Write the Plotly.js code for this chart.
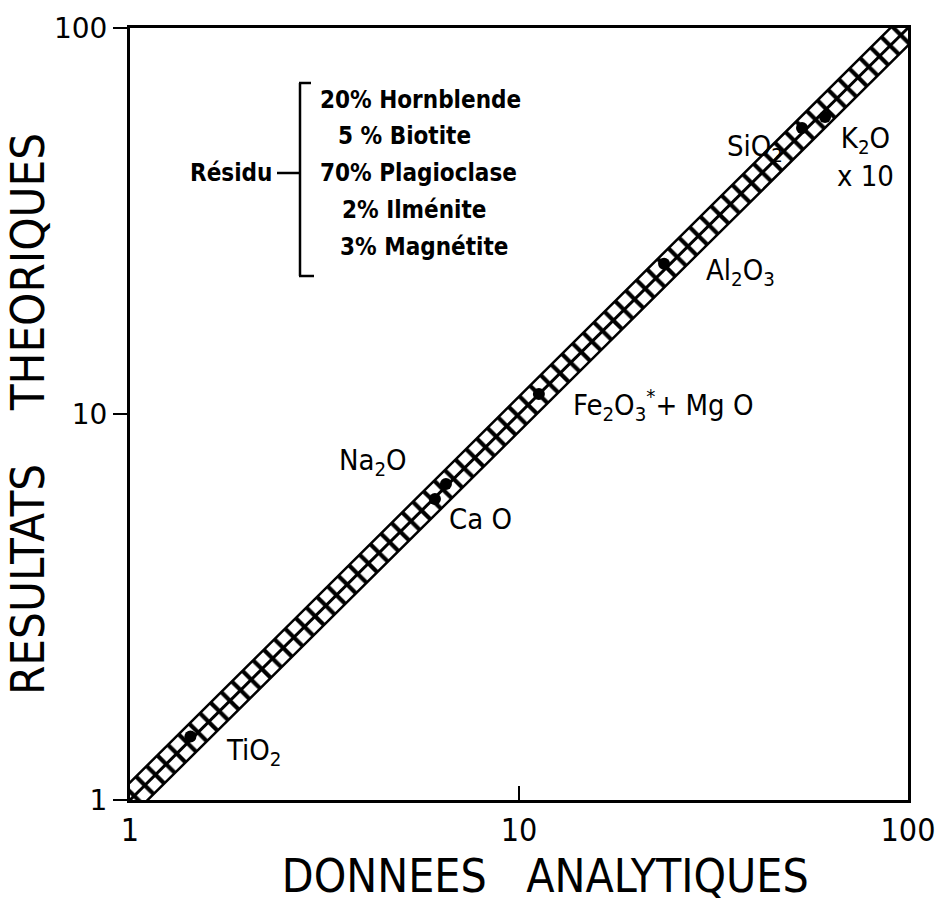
<!DOCTYPE html>
<html><head><meta charset="utf-8">
<script src="https://cdn.plot.ly/plotly-3.0.1.min.js"></script>
<style>body{margin:0;background:#fff}</style>
</head><body><div id="chart" style="width:948px;height:906px"></div>
<script>
// ---- data ----
const oxides = ['TiO2','CaO','Na2O','Fe2O3*+MgO','Al2O3','SiO2','K2O x10'];
const analytical  = [1.43, 6.08, 6.49, 11.25, 23.6, 53.4, 61.2];
const theoretical = [1.46, 6.02, 6.59, 11.27, 24.5, 55.1, 58.8];
const oxideLabels = ['TiO<sub>2</sub>','Ca O','Na<sub>2</sub>O','Fe<sub>2</sub>O<sub>3</sub><sup>*</sup>+ Mg O','Al<sub>2</sub>O<sub>3</sub>','SiO<sub>2</sub>','K<sub>2</sub>O<br>x 10'];
const residuLines = ['20% Hornblende','5 % Biotite','70% Plagioclase','2% Ilménite','3% Magnétite'];
const residuTitle = 'Résidu';
const tickVals = [1, 10, 100];
const tickText = ['1', '10', '100'];
const bandFactor = 1.11;          // envelope around the 1:1 line
const lineX = [0.8, 125];         // extent of the 1:1 line (clipped by axes)

// ---- layout helpers (pixel -> paper) ----
const L = 130, R = 908, T = 28, B = 800;
const px = x => (x - L) / (R - L);
const py = y => (B - y) / (B - T);

const FONT = '"DejaVu Sans Condensed","Liberation Sans Narrow","DejaVu Sans",sans-serif';
const NB = n => '\u00a0'.repeat(n);

const bandX = lineX.concat(lineX.slice().reverse());
const bandY = lineX.map(v => v * bandFactor).concat(lineX.slice().reverse().map(v => v / bandFactor));

const traces = [
  {x: bandX, y: bandY, mode: 'lines', fill: 'toself', fillcolor: 'white',
   fillpattern: {shape: '\\', size: 15, solidity: 0.28, fgcolor: 'black', bgcolor: 'white'},
   line: {color: 'black', width: 2.5}, hoverinfo: 'skip', showlegend: false},
  {x: lineX, y: lineX, mode: 'lines', line: {color: 'black', width: 3}, showlegend: false, hoverinfo: 'skip'},
  {x: analytical, y: theoretical, mode: 'markers', text: oxides,
   marker: {color: 'black', size: 12}, showlegend: false}
];

// label offsets (pixels) relative to each point
const offs = [[63,-15],[46,-20],[-73,22],[124,-11],[76,-8],[-47,-20],[40,-40]];
const annotations = oxideLabels.map((t, i) => ({
  x: Math.log10(analytical[i]), y: Math.log10(theoretical[i]), xref: 'x', yref: 'y',
  text: t, showarrow: false, xshift: offs[i][0], yshift: offs[i][1],
  font: {family: FONT, size: 29, color: 'black'}
}));
const resLeft = [318, 336, 318, 340, 338];
const resY = [100, 136, 173, 210, 247];
residuLines.forEach((t, i) => annotations.push({
  xref: 'paper', yref: 'paper', x: px(resLeft[i]), y: py(resY[i]), xanchor: 'left', yanchor: 'middle',
  text: t, showarrow: false, font: {family: FONT, size: 24, color: 'black', weight: 'bold'}
}));
annotations.push({xref: 'paper', yref: 'paper', x: px(274), y: py(173), xanchor: 'right', yanchor: 'middle',
  text: residuTitle, showarrow: false, font: {family: FONT, size: 24, color: 'black', weight: 'bold'}});

const ln = (x0, y0, x1, y1) => ({type: 'line', xref: 'paper', yref: 'paper',
  x0: px(x0), y0: py(y0), x1: px(x1), y1: py(y1), line: {color: 'black', width: 2.5}});
const shapes = [ln(300, 83, 300, 276), ln(299, 83, 311, 83), ln(299, 276, 314, 276), ln(277, 173, 299, 173)];

const layout = {
  width: 948, height: 906, paper_bgcolor: 'white', plot_bgcolor: 'white',
  margin: {l: L, r: 948 - R, t: T, b: 906 - B},
  xaxis: {type: 'log', range: [0, 2], tickvals: tickVals, ticktext: tickText,
    ticks: 'inside', ticklen: 14, tickwidth: 2, tickcolor: 'black',
    showline: true, mirror: true, linecolor: 'black', linewidth: 3, showgrid: false, zeroline: false,
    tickfont: {family: FONT, size: 32, color: 'black'},
    title: {text: '\u200b' + NB(4) + 'DONNEES' + NB(3) + 'ANALYTIQUES', font: {family: FONT, size: 46, color: 'black'}, standoff: 6}},
  yaxis: {type: 'log', range: [0, 2], tickvals: tickVals, ticktext: tickText,
    ticks: 'outside', ticklen: 14, tickwidth: 2, tickcolor: 'black',
    showline: true, mirror: true, linecolor: 'black', linewidth: 3, showgrid: false, zeroline: false,
    tickfont: {family: '"DejaVu Sans",sans-serif', size: 28, color: 'black'},
    title: {text: 'RESULTATS' + NB(4) + 'THEORIQUES', font: {family: FONT, size: 47, color: 'black'}, standoff: 6}},
  annotations: annotations, shapes: shapes
};
Plotly.newPlot('chart', traces, layout, {displayModeBar: false, staticPlot: true});
</script></body></html>
